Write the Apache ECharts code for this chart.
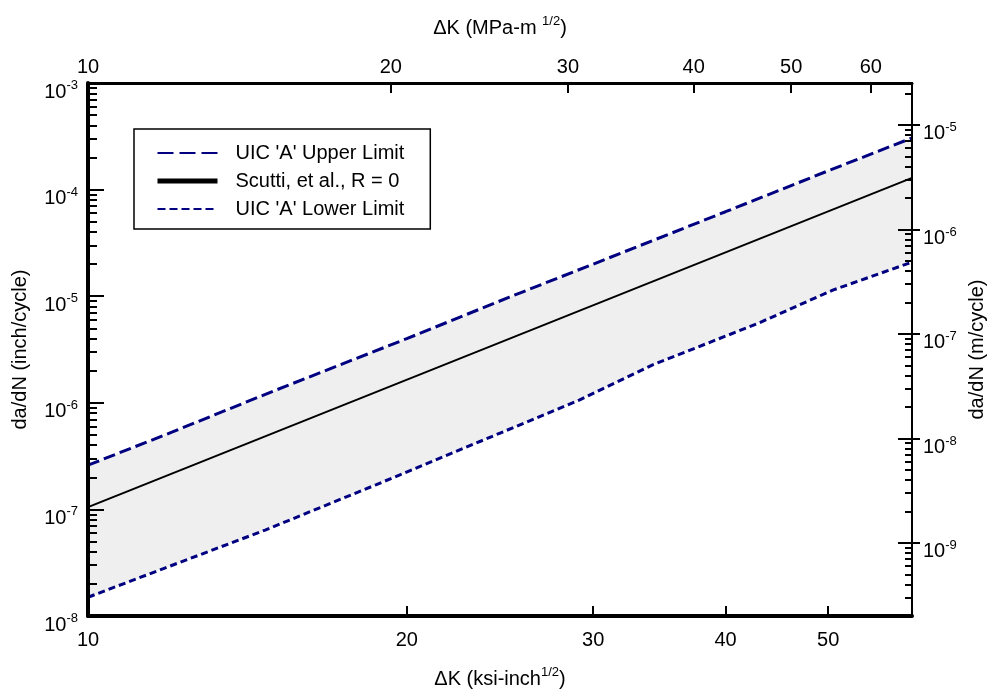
<!DOCTYPE html>
<html>
<head>
<meta charset="utf-8">
<script src="https://cdn.jsdelivr.net/npm/echarts@6/dist/echarts.min.js"></script>
<style>html,body{margin:0;padding:0;background:#fff}#c{width:989px;height:694px}</style>
</head>
<body>
<div id="c"></div>
<script>
// ---- data ----
const upperK = [10, 12, 15, 20, 25, 30, 40, 50, 60];
const upperV = [2.6e-7, 5.3e-7, 1.3e-6, 4.0e-6, 9.8e-6, 2.0e-5, 6.2e-5, 1.5e-4, 3.05e-4];
const scuttiK = [10, 60];
const scuttiV = [1.05e-7, 1.29e-4];
const lowerK = [10, 11.8, 14.7, 18.7, 24.5, 29.1, 34.1, 43, 50.5, 60];
const lowerV = [1.5e-8, 2.8e-8, 6.4e-8, 1.7e-7, 5.2e-7, 1.06e-6, 2.26e-6, 5.6e-6, 1.14e-5, 2.09e-5];

const ksiTicks = [10, 20, 30, 40, 50];
const mpaTicks = [10, 20, 30, 40, 50, 60];
const inchDecades = [-8, -7, -6, -5, -4, -3];
const meterDecades = [-9, -8, -7, -6, -5];
const minorMult = [2, 3, 4, 5, 6, 7, 8, 9];

const ksiRange = [10, 60];
const mpaRange = [10, 65.93];
const inchRange = [1e-8, 1e-3];
const meterRange = [2.0e-10, 2.52e-5];

const seriesNames = ["UIC 'A' Upper Limit", "Scutti, et al., R = 0", "UIC 'A' Lower Limit"];

// ---- helpers ----
const L = Math.log10;
const toPts = (K, V) => K.map((k, i) => [L(k), L(V[i])]);
const upperData = toPts(upperK, upperV);
const scuttiData = toPts(scuttiK, scuttiV);
const lowerData = toPts(lowerK, lowerV);

function minorPos(range) {
  const out = [];
  const lo = L(range[0]), hi = L(range[1]);
  for (let n = Math.floor(lo) - 1; n <= Math.ceil(hi); n++) {
    minorMult.forEach(m => { const v = n + L(m); if (v > lo && v < hi) out.push(v); });
  }
  return out;
}

const FONT = 'Liberation Sans, Arial, Helvetica, sans-serif';
const powRich = {
  b: { fontSize: 20, lineHeight: 26, fontFamily: FONT, color: '#000' },
  s: { fontSize: 13, lineHeight: 13, verticalAlign: 'top', fontFamily: FONT, color: '#000' }
};
const nameRich = {
  n: { fontSize: 20, lineHeight: 26, fontFamily: FONT, color: '#000' },
  s: { fontSize: 13, lineHeight: 13, verticalAlign: 'top', fontFamily: FONT, color: '#000' }
};
const powFmt = v => '{b|10}{s|' + Math.round(v) + '}';
const linFmt = v => String(Math.round(Math.pow(10, v)));

const black = '#000';
const navy = '#000080';
const hiddenSym = { color: 'rgba(0,0,0,0)', borderWidth: 0, opacity: 0 };

const chart = echarts.init(document.getElementById('c'), null, { renderer: 'canvas' });
const option = {
  animation: false,
  backgroundColor: '#fff',
  grid: { left: 88, right: 77, top: 83, bottom: 78, containLabel: false, outerBoundsMode: 'none' },
  legend: {
    show: true,
    orient: 'vertical',
    left: 134, top: 129,
    itemWidth: 60, itemHeight: 14, itemGap: 8,
    padding: [14, 26, 10, 21],
    borderColor: black, borderWidth: 1.5, backgroundColor: '#fff',
    selectedMode: false,
    textStyle: { fontSize: 20, lineHeight: 20, fontFamily: FONT, color: black, padding: [0, 0, 0, 13] },
    data: [
      { name: seriesNames[0], itemStyle: hiddenSym, lineStyle: { color: navy, width: 2, type: [16, 6] } },
      { name: seriesNames[1], itemStyle: hiddenSym, lineStyle: { color: black, width: 5, type: 'solid' } },
      { name: seriesNames[2], itemStyle: hiddenSym, lineStyle: { color: navy, width: 2, type: [8, 4] } }
    ]
  },
  xAxis: [
    {
      type: 'value', position: 'bottom', min: L(ksiRange[0]), max: L(ksiRange[1]), z: 10,
      axisLine: { show: true, onZero: false, lineStyle: { color: black, width: 4 } },
      axisTick: { show: true, inside: true, length: 10, customValues: ksiTicks.map(L), lineStyle: { color: black, width: 2 } },
      axisLabel: { customValues: ksiTicks.map(L), formatter: linFmt, margin: 14, fontSize: 20, fontFamily: FONT, color: black },
      splitLine: { show: false },
      name: '{n|ΔK (ksi-inch}{s|1/2}{n|)}', nameLocation: 'middle', nameGap: 50,
      nameTextStyle: { rich: nameRich }
    },
    {
      type: 'value', position: 'top', min: L(mpaRange[0]), max: L(mpaRange[1]), z: 10,
      axisLine: { show: true, onZero: false, lineStyle: { color: black, width: 3 } },
      axisTick: { show: true, inside: true, length: 10, customValues: mpaTicks.map(L), lineStyle: { color: black, width: 2 } },
      axisLabel: { customValues: mpaTicks.map(L), formatter: linFmt, margin: 6, fontSize: 20, fontFamily: FONT, color: black },
      splitLine: { show: false },
      name: '{n|ΔK (MPa-m }{s|1/2}{n|)}', nameLocation: 'middle', nameGap: 42,
      nameTextStyle: { rich: nameRich }
    }
  ],
  yAxis: [
    {
      type: 'value', position: 'left', min: L(inchRange[0]), max: L(inchRange[1]), z: 10,
      axisLine: { show: true, onZero: false, lineStyle: { color: black, width: 4 } },
      axisTick: { show: true, inside: true, length: 16, customValues: inchDecades, lineStyle: { color: black, width: 2 } },
      axisLabel: { customValues: inchDecades, formatter: powFmt, margin: 10, padding: [18, 0, 0, 0], rich: powRich },
      splitLine: { show: false },
      name: 'da/dN (inch/cycle)', nameLocation: 'middle', nameGap: 58, nameRotate: 90,
      nameTextStyle: { fontSize: 20, fontFamily: FONT, color: black }
    },
    {
      type: 'value', position: 'left', min: L(inchRange[0]), max: L(inchRange[1]), z: 10,
      axisLine: { show: false },
      axisTick: { show: true, inside: true, length: 9, customValues: minorPos(inchRange), lineStyle: { color: black, width: 2 } },
      axisLabel: { show: false },
      splitLine: { show: false }
    },
    {
      type: 'value', position: 'right', min: L(meterRange[0]), max: L(meterRange[1]), z: 10,
      axisLine: { show: true, onZero: false, lineStyle: { color: black, width: 2 } },
      axisTick: { show: true, inside: true, length: 14, customValues: meterDecades, lineStyle: { color: black, width: 2 } },
      axisLabel: { customValues: meterDecades, formatter: powFmt, margin: 11, padding: [18, 0, 0, 0], rich: powRich },
      splitLine: { show: false },
      name: 'da/dN (m/cycle)', nameLocation: 'middle', nameGap: 53, nameRotate: 90,
      nameTextStyle: { fontSize: 20, fontFamily: FONT, color: black }
    },
    {
      type: 'value', position: 'right', min: L(meterRange[0]), max: L(meterRange[1]), z: 10,
      axisLine: { show: false },
      axisTick: { show: true, inside: false, length: 8, customValues: meterDecades, lineStyle: { color: black, width: 2 } },
      axisLabel: { show: false },
      splitLine: { show: false }
    },
    {
      type: 'value', position: 'right', min: L(meterRange[0]), max: L(meterRange[1]), z: 10,
      axisLine: { show: false },
      axisTick: { show: true, inside: true, length: 7, customValues: minorPos(meterRange), lineStyle: { color: black, width: 2 } },
      axisLabel: { show: false },
      splitLine: { show: false }
    }
  ],
  series: [
    {
      type: 'custom', name: 'band', xAxisIndex: 0, yAxisIndex: 0, z: 1, silent: true,
      data: [[1, -8]],
      renderItem: function (params, api) {
        const pts = [];
        upperData.forEach(d => pts.push(api.coord(d)));
        for (let i = lowerData.length - 1; i >= 0; i--) pts.push(api.coord(lowerData[i]));
        return { type: 'polygon', shape: { points: pts }, style: { fill: '#efefef', stroke: null } };
      }
    },
    {
      type: 'line', name: seriesNames[0], xAxisIndex: 0, yAxisIndex: 0, z: 3,
      data: upperData, symbol: 'none', smooth: false,
      lineStyle: { color: navy, width: 3, type: [12, 5] }, itemStyle: { color: navy }
    },
    {
      type: 'line', name: seriesNames[1], xAxisIndex: 0, yAxisIndex: 0, z: 3,
      data: scuttiData, symbol: 'none',
      lineStyle: { color: black, width: 2, type: 'solid' }, itemStyle: { color: black }
    },
    {
      type: 'line', name: seriesNames[2], xAxisIndex: 0, yAxisIndex: 0, z: 3,
      data: lowerData, symbol: 'none',
      lineStyle: { color: navy, width: 3, type: [7, 4] }, itemStyle: { color: navy }
    }
  ]
};
chart.setOption(option);
</script>
</body>
</html>
